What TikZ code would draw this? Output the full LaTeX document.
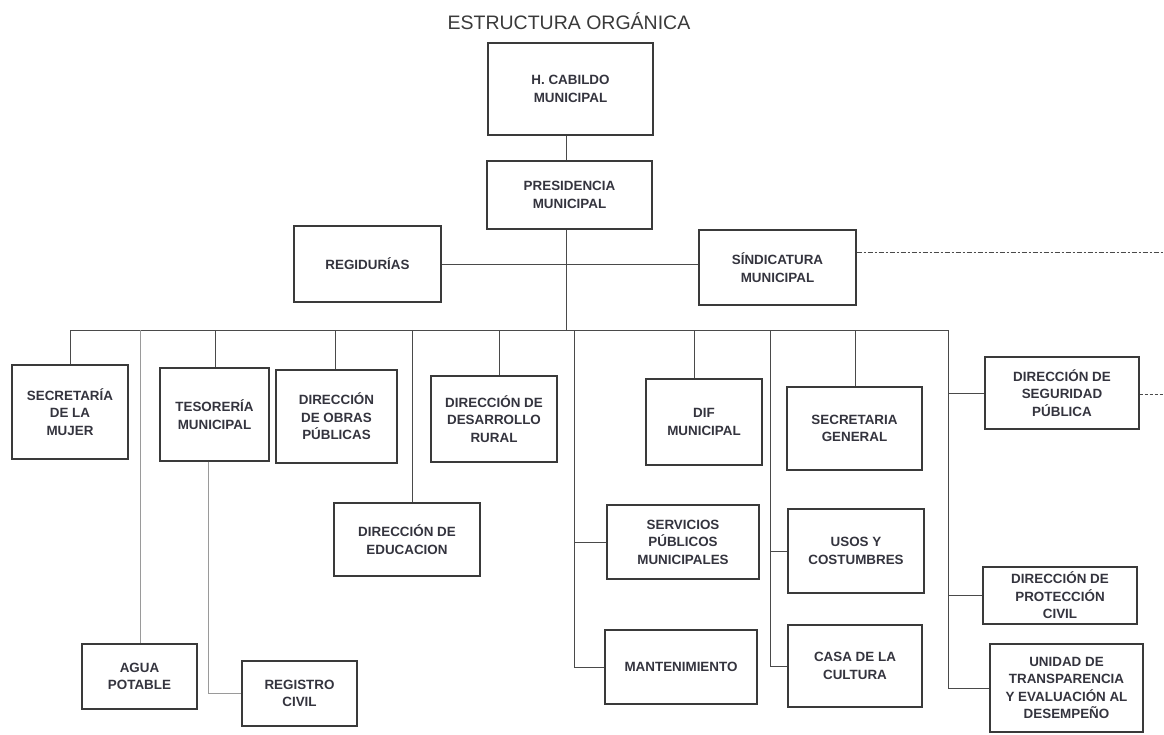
\documentclass[tikz,border=0pt]{standalone}
\usepackage{fontspec}
\setmainfont{Liberation Sans}
\usetikzlibrary{shadows}
\definecolor{boxline}{HTML}{3A3A3A}
\definecolor{conn}{HTML}{4A4A4A}
\definecolor{lightconn}{HTML}{9A9A9A}
\definecolor{txt}{HTML}{34343E}
\definecolor{ttl}{HTML}{3A3A3A}
\begin{document}
\begin{tikzpicture}[x=1pt,y=-1pt,
  box/.style={draw=boxline, line width=1.3pt, fill=white, inner sep=0pt,
    align=center, text=txt, font=\bfseries\fontsize{13.4}{17.5}\selectfont,
    drop shadow={shadow xshift=0.8pt, shadow yshift=-0.8pt, opacity=0.25}},
  conn/.style={draw=conn, line width=1pt},
  thinconn/.style={draw=lightconn, line width=0.7pt},
  dashdot/.style={draw=conn, line width=0.8pt, dash pattern=on 5pt off 2pt on 2pt off 2pt},
  dashline/.style={draw=conn, line width=0.8pt, dash pattern=on 3pt off 2pt}
]
\fill[white] (0,0) rectangle (1164,734);
\useasboundingbox (0,0) rectangle (1164,734);

\node[text=ttl, font=\fontsize{19.5}{22}\selectfont] (title) at (569,21) {ESTRUCTURA ORGÁNICA};

% boxes
\node[box, minimum width=165pt, minimum height=92pt] (cab) at (570.5,89) {H. CABILDO\\MUNICIPAL};
\node[box, minimum width=165pt, minimum height=68pt] (pres) at (569.5,195) {PRESIDENCIA\\MUNICIPAL};
\node[box, minimum width=147pt, minimum height=76pt] (reg) at (367.5,264) {REGIDURÍAS};
\node[box, minimum width=157pt, minimum height=75pt] (sind) at (777.5,267.5) {SÍNDICATURA\\MUNICIPAL};

\node[box, minimum width=116pt, minimum height=94pt] (mujer) at (70,412) {SECRETARÍA\\DE LA\\MUJER};
\node[box, minimum width=109pt, minimum height=93pt] (teso) at (214.5,414.5) {TESORERÍA\\MUNICIPAL};
\node[box, minimum width=121pt, minimum height=93pt] (obras) at (336.5,416.5) {DIRECCIÓN\\DE OBRAS\\PÚBLICAS};
\node[box, minimum width=126pt, minimum height=86pt] (rural) at (494,419) {DIRECCIÓN DE\\DESARROLLO\\RURAL};
\node[box, minimum width=116pt, minimum height=86pt] (dif) at (704,422) {DIF\\MUNICIPAL};
\node[box, minimum width=135pt, minimum height=83pt] (secgen) at (854.5,428.5) {SECRETARIA\\GENERAL};
\node[box, minimum width=154pt, minimum height=72pt] (segur) at (1062,393) {DIRECCIÓN DE\\SEGURIDAD\\PÚBLICA};

\node[box, minimum width=146pt, minimum height=73pt] (educ) at (407,539.5) {DIRECCIÓN DE\\EDUCACION};
\node[box, minimum width=152pt, minimum height=74pt] (serv) at (683,542) {SERVICIOS\\PÚBLICOS\\MUNICIPALES};
\node[box, minimum width=136pt, minimum height=84pt] (usos) at (856,551) {USOS Y\\COSTUMBRES};
\node[box, minimum width=154pt, minimum height=57pt] (prot) at (1060,595.5) {DIRECCIÓN DE\\PROTECCIÓN\\CIVIL};

\node[box, minimum width=115pt, minimum height=65pt] (agua) at (139.5,676.5) {AGUA\\POTABLE};
\node[box, minimum width=115pt, minimum height=65pt] (regciv) at (299.5,693.5) {REGISTRO\\CIVIL};
\node[box, minimum width=152pt, minimum height=74pt] (mant) at (681,667) {MANTENIMIENTO};
\node[box, minimum width=134pt, minimum height=82pt] (casa) at (855,666) {CASA DE LA\\CULTURA};
\node[box, minimum width=153pt, minimum height=88pt] (unidad) at (1066.5,688) {UNIDAD DE\\TRANSPARENCIA\\Y EVALUACIÓN AL\\DESEMPEÑO};

% top connectors
\coordinate (busc) at (566,330);
\draw[conn] (cab.south -| busc) -- (pres.north -| busc);
\draw[conn] (pres.south -| busc) -- (busc);
\draw[conn] (reg.east) -- (reg.east -| sind.west);

% bus
\coordinate (bL) at (70,330);
\coordinate (bR) at (948,330);
\draw[conn] (bL) -- (bR);

\coordinate (b1) at (70,330);
\coordinate (b2) at (140,330);
\coordinate (b3) at (215,330);
\coordinate (b4) at (335,330);
\coordinate (b5) at (412,330);
\coordinate (b6) at (499,330);
\coordinate (b7) at (574,330);
\coordinate (b8) at (694,330);
\coordinate (b9) at (770,330);
\coordinate (b10) at (855,330);

\draw[conn] (b1) -- (b1 |- mujer.north);
\draw[thinconn] (b2) -- (b2 |- agua.north);
\draw[conn] (b3) -- (b3 |- teso.north);
\draw[conn] (b4) -- (b4 |- obras.north);
\draw[conn] (b5) -- (b5 |- educ.north);
\draw[conn] (b6) -- (b6 |- rural.north);
\draw[conn] (b8) -- (b8 |- dif.north);
\draw[conn] (b10) -- (b10 |- secgen.north);

% branch at 574
\draw[conn] (b7) |- (mant.west);
\draw[conn] (b7 |- serv.west) -- (serv.west);

% branch at 770
\draw[conn] (b9) |- (casa.west);
\draw[conn] (b9 |- usos.west) -- (usos.west);

% branch at 948
\draw[conn] (bR) |- (unidad.west);
\draw[conn] (bR |- segur.west) -- (segur.west);
\draw[conn] (bR |- prot.west) -- (prot.west);

% tesoreria to registro civil
\coordinate (t1) at (208,461);
\draw[thinconn] (t1 |- teso.south) |- (regciv.west);

% dashed continuations
\coordinate (sdE) at (1164,252);
\draw[dashdot] (sind.east |- sdE) -- (sdE);
\coordinate (sgE) at (1164,394);
\draw[dashline] (segur.east |- sgE) -- (sgE);
\end{tikzpicture}
\end{document}
